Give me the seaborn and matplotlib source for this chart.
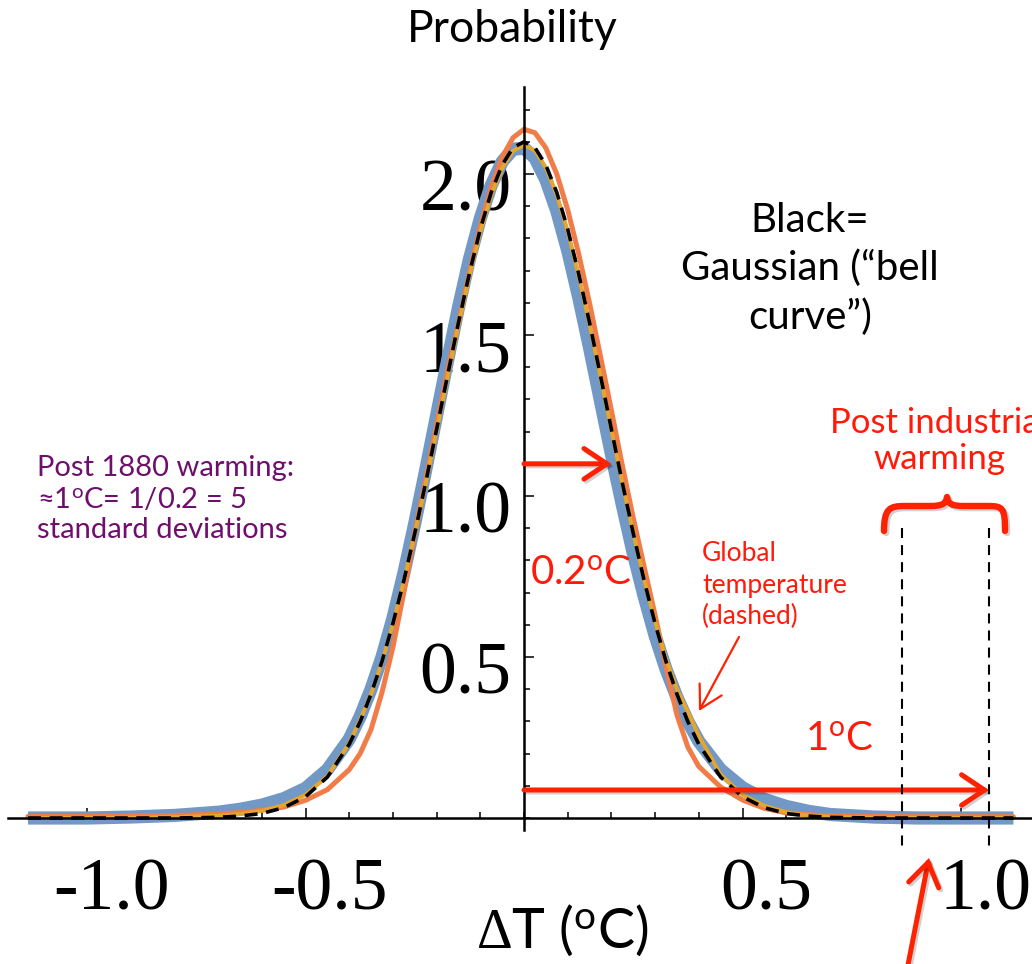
import matplotlib
matplotlib.use("Agg")
import matplotlib.pyplot as plt
import matplotlib.transforms as mtransforms
import matplotlib.patheffects as pe
from matplotlib.path import Path
from matplotlib.patches import PathPatch
from matplotlib.ticker import MultipleLocator
import seaborn as sns

# Temperature anomaly grid (deg C)
dT = [-1.135, -1.0, -0.9, -0.8, -0.7, -0.65, -0.6, -0.55, -0.5, -0.45, -0.4,
      -0.375, -0.35, -0.325, -0.3, -0.275, -0.25, -0.225, -0.2, -0.175, -0.15,
      -0.125, -0.1, -0.075, -0.05, -0.025, 0.0, 0.025, 0.05, 0.075, 0.1, 0.125,
      0.15, 0.175, 0.2, 0.225, 0.25, 0.275, 0.3, 0.325, 0.35, 0.375, 0.4, 0.45,
      0.5, 0.55, 0.6, 0.65, 0.7, 0.8, 0.9, 1.0, 1.12]

# Probability densities of the temperature fluctuations
density_blue = [0.0, 0.0, 0.003, 0.008, 0.018, 0.027, 0.040, 0.060, 0.092, 0.150, 0.245,
                0.315, 0.400, 0.500, 0.620, 0.760, 0.915, 1.080, 1.250, 1.420, 1.585,
                1.735, 1.862, 1.965, 2.038, 2.077, 2.080, 2.050, 1.982, 1.885, 1.762, 1.618,
                1.460, 1.295, 1.130, 0.972, 0.822, 0.688, 0.566, 0.462, 0.375, 0.300, 0.238, 0.150,
                0.094, 0.058, 0.036, 0.021, 0.011, 0.003, 0.0, 0.0, 0.0]
density_orange = [0.005, 0.005, 0.006, 0.008, 0.012, 0.017, 0.024, 0.034, 0.055, 0.088, 0.150,
                  0.200, 0.275, 0.390, 0.530, 0.700, 0.885, 1.050, 1.220, 1.390, 1.535,
                  1.694, 1.837, 1.959, 2.052, 2.113, 2.139, 2.128, 2.081, 2.000, 1.889, 1.753,
                  1.599, 1.434, 1.266, 1.095, 0.932, 0.780, 0.630, 0.470, 0.320, 0.220, 0.160, 0.096,
                  0.056, 0.030, 0.016, 0.010, 0.007, 0.005, 0.004, 0.004, 0.004]
density_gold = [0.0, 0.0, 0.001, 0.003, 0.007, 0.012, 0.022, 0.040, 0.072, 0.130, 0.232,
                0.305, 0.385, 0.484, 0.602, 0.735, 0.882, 1.038, 1.202, 1.368, 1.530,
                1.683, 1.820, 1.934, 2.018, 2.072, 2.090, 2.073, 2.020, 1.935, 1.822, 1.685,
                1.533, 1.371, 1.205, 1.041, 0.886, 0.741, 0.610, 0.495, 0.400, 0.330, 0.255, 0.135,
                0.072, 0.038, 0.018, 0.008, 0.004, 0.001, 0.0, 0.0, 0.0]
# Gaussian reference, sigma = 0.19
density_gauss = [0.0, 0.0, 0.0, 0.0, 0.002, 0.006, 0.014, 0.032, 0.066, 0.127, 0.229,
                 0.299, 0.385, 0.486, 0.604, 0.737, 0.884, 1.041, 1.207, 1.374, 1.538,
                 1.691, 1.829, 1.943, 2.028, 2.082, 2.100, 2.082, 2.028, 1.943, 1.829, 1.691,
                 1.538, 1.374, 1.207, 1.041, 0.884, 0.737, 0.604, 0.486, 0.385, 0.299, 0.229, 0.127,
                 0.066, 0.032, 0.014, 0.006, 0.002, 0.0, 0.0, 0.0, 0.0]

x_ticks = [-1.0, -0.5, 0.5, 1.0]
x_tick_labels = ["-1.0", "-0.5", "0.5", "1.0"]
y_ticks = [0.5, 1.0, 1.5, 2.0]
y_tick_labels = ["0.5", "1.0", "1.5", "2.0"]

SIGMA = 0.2            # one standard deviation
SIGMA_ARROW_Y = 1.10
WARMING_ARROW_Y = 0.087
WARMING_START = 0.865  # post-industrial warming interval
WARMING_NOW = 1.064

BLUE = "#7298c6"
ORANGE = "#f07c48"
GOLD = "#e4a62c"
RED = "#ff2200"
TEXT_RED = "#ff1a0a"
PURPLE = "#6e0f6c"
SANS = "Lato"
SERIF = "Liberation Serif"

sns.set_theme(style="white")
plt.rcParams["font.family"] = [SANS, "DejaVu Sans"]
plt.rcParams["mathtext.fontset"] = "custom"
plt.rcParams["mathtext.rm"] = SERIF
plt.rcParams["mathtext.it"] = SERIF + ":italic"
plt.rcParams["mathtext.bf"] = SERIF + ":bold"

W, H = 1032, 964
fig = plt.figure(figsize=(W / 100, H / 100), dpi=100)
ax = fig.add_axes([8 / W, 134 / H, 1024 / W, 743 / H])
ax.set_xlim(-516 / 437, 508 / 437)
ax.set_ylim(-12 / 322, 731 / 322)
ax.set_facecolor("white")

# pixel placement helper for the free-floating slide annotations
img = mtransforms.Affine2D().scale(0.01, -0.01).translate(0, H / 100) + fig.dpi_scale_trans

# curves
sns.lineplot(x=dT, y=density_blue, color=BLUE, lw=9.5, ax=ax, zorder=2.0,
             solid_capstyle="butt")
sns.lineplot(x=dT, y=density_orange, color=ORANGE, lw=3.6, ax=ax, zorder=2.1)
sns.lineplot(x=dT, y=density_gold, color=GOLD, lw=2.8, ax=ax, zorder=2.2)
sns.lineplot(x=dT, y=density_gauss, color="black", lw=2.6, ax=ax, zorder=2.3)
ax.lines[-1].set_dashes((3.6, 2.4))

# axes through the origin
for side in ("top", "right"):
    ax.spines[side].set_visible(False)
ax.spines["left"].set_position(("data", 0))
ax.spines["bottom"].set_position(("data", 0))
for side in ("left", "bottom"):
    ax.spines[side].set_linewidth(1.8)
    ax.spines[side].set_color("black")
    ax.spines[side].set_zorder(2.5)

ax.set_xticks(x_ticks, x_tick_labels)
ax.set_yticks(y_ticks, y_tick_labels)
ax.xaxis.set_minor_locator(MultipleLocator(0.1))
ax.yaxis.set_minor_locator(MultipleLocator(0.1))
ax.tick_params(which="both", direction="in", color="black", width=1.1,
               bottom=True, left=True, top=False, right=False)
ax.tick_params(which="major", length=7)
ax.tick_params(which="minor", length=4)
ax.tick_params(axis="x", which="major", pad=29, labelsize=53, labelfontfamily=SERIF,
               labelcolor="black")
ax.tick_params(axis="y", which="major", pad=9, labelsize=53, labelfontfamily=SERIF,
               labelcolor="black")
ax.grid(False)

shift_x = mtransforms.ScaledTranslation(0.24, 0, fig.dpi_scale_trans)
for lab in ax.get_xticklabels():
    lab.set_transform(lab.get_transform() + shift_x)
shift_y = mtransforms.ScaledTranslation(0, -0.11, fig.dpi_scale_trans)
for lab in ax.get_yticklabels():
    lab.set_transform(lab.get_transform() + shift_y)

ax.set_title("Probability", fontsize=32, fontfamily=SANS, x=(512 - 8) / 1024,
             y=(830 - 38) / 743, va="center", color="black")
ax.set_xlabel(r"$\mathrm{Δ}$T ($^{\mathregular{o}}$C)", fontsize=40,
              fontfamily=SANS, color="black")
ax.xaxis.set_label_coords((562 - 8) / 1024, (830 - 930) / 743)
ax.xaxis.label.set_va("center")

shadow = [pe.SimpleLineShadow(offset=(1.5, -1.5), shadow_color="black", alpha=0.18),
          pe.Normal()]
big_arrow = dict(arrowstyle="->,head_length=0.75,head_width=0.5", color=RED, lw=3.6,
                 shrinkA=0, shrinkB=0, mutation_scale=22, path_effects=shadow,
                 capstyle="round", joinstyle="miter")

# one standard deviation
ax.annotate("", xy=(SIGMA, SIGMA_ARROW_Y), xytext=(0, SIGMA_ARROW_Y),
            arrowprops=big_arrow, annotation_clip=False)
# warming since 1880
ax.annotate("", xy=(WARMING_NOW, WARMING_ARROW_Y), xytext=(0, WARMING_ARROW_Y),
            arrowprops=big_arrow, annotation_clip=False)

# dashed markers of the warming interval
for xv in (WARMING_START, WARMING_NOW):
    ax.plot([xv, xv], [0.90, -0.093], color="black", lw=1.5, dashes=(4.8, 3.4),
            clip_on=False, zorder=3)

# curly brace over the interval
brace = Path(
    [(884, 531), (884, 508), (890, 506), (905, 506),
     (930, 506),
     (942, 506), (946, 504), (947, 497),
     (948, 504), (952, 506), (964, 506),
     (988, 506),
     (1003, 506), (1005, 508), (1005, 531)],
    [Path.MOVETO, Path.CURVE4, Path.CURVE4, Path.CURVE4,
     Path.LINETO,
     Path.CURVE4, Path.CURVE4, Path.CURVE4,
     Path.CURVE4, Path.CURVE4, Path.CURVE4,
     Path.LINETO,
     Path.CURVE4, Path.CURVE4, Path.CURVE4])
fig.add_artist(PathPatch(brace, transform=img, fill=False, edgecolor=RED, lw=4.6,
                         capstyle="round", joinstyle="round", path_effects=shadow))

# pointer into the upper tail
ax.annotate("", xy=(929, 858), xycoords=img, xytext=(906, 975), textcoords=img,
            arrowprops=big_arrow, annotation_clip=False)
# pointer to the global temperature curve
ax.annotate("", xy=(699, 711), xycoords=img, xytext=(739, 637), textcoords=img,
            arrowprops=dict(arrowstyle="->,head_length=0.8,head_width=0.45", color=RED,
                            lw=1.6, shrinkA=0, shrinkB=0, mutation_scale=20),
            annotation_clip=False)

# text annotations
fig.text(810, 269, "Black=\nGaussian (\u201cbell\ncurve\u201d)", transform=img,
         ha="center", va="center", multialignment="center", fontsize=29,
         fontfamily=SANS, color="black", linespacing=1.35)
fig.text(37, 455, "Post 1880 warming:\n\u22481$^{\\mathregular{o}}$C= 1/0.2 = 5\nstandard deviations",
         transform=img, ha="left", va="top", fontsize=21, fontfamily=SANS,
         color=PURPLE, linespacing=1.22)
fig.text(939, 441, "Post industrial\nwarming", transform=img, ha="center", va="center",
         multialignment="center", fontsize=25, fontfamily=SANS, color=TEXT_RED,
         linespacing=1.15)
fig.text(702, 541, "Global\ntemperature\n(dashed)", transform=img, ha="left", va="top",
         fontsize=19, fontfamily=SANS, color=TEXT_RED, linespacing=1.33)
fig.text(530, 572, "0.2$^{\\mathregular{o}}$C", transform=img, ha="left", va="center",
         fontsize=29, fontfamily=SANS, color=TEXT_RED)
fig.text(805, 739, "1$^{\\mathregular{o}}$C", transform=img, ha="left", va="center",
         fontsize=29, fontfamily=SANS, color=TEXT_RED)

fig.savefig("out.png", dpi=100, facecolor="white")
